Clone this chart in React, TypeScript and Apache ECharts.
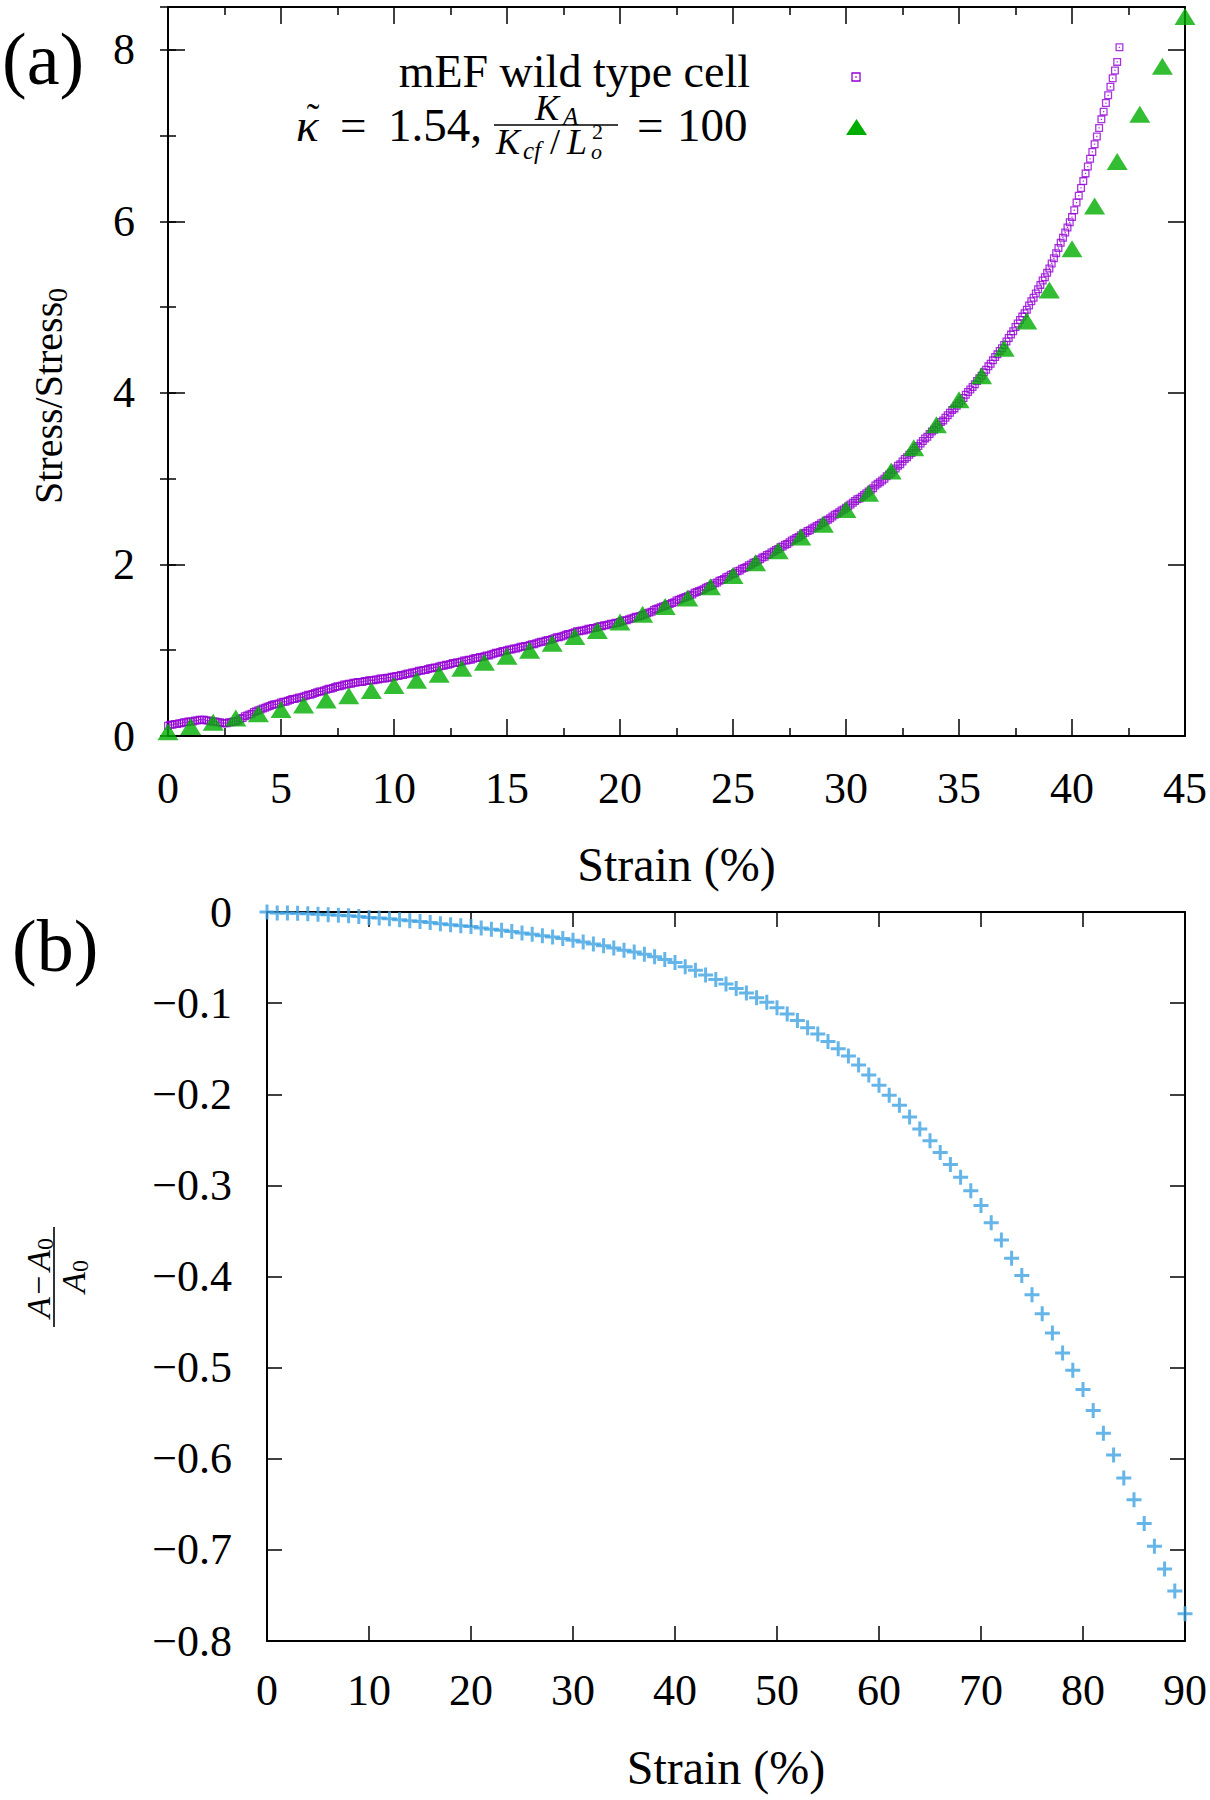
import React, { useEffect, useRef } from 'react';
import * as echarts from 'echarts';

const SERIF = 'Liberation Serif';

// ---------- Panel (a): stress vs strain ----------
// mEF wild type cell (purple open squares), sampled every 0.1 % strain from 0 to 42.1 %
const strainStepA = 0.1;
const stressA: number[] = [
  0.12, 0.13, 0.13, 0.14, 0.14, 0.15, 0.15, 0.16, 0.16, 0.17,
  0.17, 0.17, 0.18, 0.18, 0.19, 0.19, 0.19, 0.18, 0.18, 0.17,
  0.17, 0.17, 0.16, 0.16, 0.15, 0.15, 0.15, 0.16, 0.16, 0.17,
  0.17, 0.18, 0.20, 0.21, 0.23, 0.24, 0.25, 0.26, 0.28, 0.29,
  0.30, 0.31, 0.32, 0.33, 0.34, 0.35, 0.36, 0.37, 0.37, 0.38,
  0.39, 0.40, 0.40, 0.41, 0.42, 0.43, 0.43, 0.44, 0.45, 0.45,
  0.46, 0.47, 0.48, 0.48, 0.49, 0.50, 0.51, 0.52, 0.52, 0.53,
  0.54, 0.55, 0.55, 0.56, 0.57, 0.58, 0.58, 0.59, 0.60, 0.60,
  0.61, 0.61, 0.62, 0.62, 0.63, 0.63, 0.63, 0.64, 0.64, 0.65,
  0.65, 0.65, 0.66, 0.66, 0.67, 0.67, 0.67, 0.68, 0.68, 0.69,
  0.69, 0.70, 0.70, 0.71, 0.71, 0.72, 0.73, 0.73, 0.74, 0.74,
  0.75, 0.76, 0.76, 0.77, 0.77, 0.78, 0.79, 0.79, 0.80, 0.80,
  0.81, 0.82, 0.82, 0.83, 0.83, 0.84, 0.85, 0.85, 0.86, 0.86,
  0.87, 0.88, 0.88, 0.89, 0.89, 0.90, 0.91, 0.91, 0.92, 0.92,
  0.93, 0.94, 0.94, 0.95, 0.96, 0.97, 0.97, 0.98, 0.99, 0.99,
  1.00, 1.01, 1.01, 1.02, 1.02, 1.03, 1.04, 1.04, 1.05, 1.05,
  1.06, 1.07, 1.07, 1.08, 1.09, 1.10, 1.10, 1.11, 1.12, 1.12,
  1.13, 1.14, 1.15, 1.15, 1.16, 1.17, 1.18, 1.19, 1.19, 1.20,
  1.21, 1.22, 1.22, 1.23, 1.23, 1.24, 1.25, 1.25, 1.26, 1.26,
  1.27, 1.28, 1.28, 1.29, 1.29, 1.30, 1.31, 1.31, 1.32, 1.32,
  1.33, 1.34, 1.35, 1.35, 1.36, 1.37, 1.38, 1.39, 1.39, 1.40,
  1.41, 1.42, 1.43, 1.44, 1.45, 1.47, 1.48, 1.49, 1.50, 1.51,
  1.52, 1.53, 1.54, 1.55, 1.56, 1.58, 1.59, 1.60, 1.61, 1.62,
  1.63, 1.64, 1.65, 1.67, 1.68, 1.69, 1.70, 1.71, 1.73, 1.74,
  1.75, 1.76, 1.78, 1.79, 1.81, 1.82, 1.83, 1.85, 1.86, 1.88,
  1.89, 1.90, 1.92, 1.93, 1.95, 1.96, 1.97, 1.99, 2.00, 2.02,
  2.03, 2.05, 2.06, 2.08, 2.09, 2.11, 2.12, 2.14, 2.15, 2.17,
  2.18, 2.20, 2.21, 2.23, 2.24, 2.26, 2.28, 2.29, 2.31, 2.32,
  2.34, 2.36, 2.37, 2.39, 2.40, 2.42, 2.43, 2.45, 2.46, 2.48,
  2.49, 2.51, 2.52, 2.54, 2.56, 2.58, 2.59, 2.61, 2.63, 2.64,
  2.66, 2.68, 2.70, 2.72, 2.74, 2.76, 2.77, 2.79, 2.81, 2.83,
  2.85, 2.87, 2.89, 2.92, 2.94, 2.96, 2.98, 3.00, 3.03, 3.05,
  3.07, 3.10, 3.12, 3.15, 3.17, 3.20, 3.23, 3.25, 3.28, 3.30,
  3.33, 3.36, 3.38, 3.41, 3.44, 3.47, 3.49, 3.52, 3.55, 3.57,
  3.60, 3.63, 3.66, 3.68, 3.71, 3.74, 3.77, 3.80, 3.82, 3.85,
  3.88, 3.91, 3.94, 3.98, 4.01, 4.04, 4.07, 4.10, 4.14, 4.17,
  4.20, 4.24, 4.27, 4.31, 4.34, 4.38, 4.42, 4.45, 4.49, 4.52,
  4.56, 4.60, 4.64, 4.68, 4.72, 4.77, 4.81, 4.85, 4.89, 4.93,
  4.97, 5.02, 5.07, 5.11, 5.16, 5.21, 5.26, 5.31, 5.35, 5.40,
  5.45, 5.51, 5.57, 5.63, 5.69, 5.75, 5.81, 5.87, 5.93, 5.99,
  6.05, 6.13, 6.22, 6.30, 6.39, 6.47, 6.56, 6.64, 6.73, 6.81,
  6.90, 6.99, 7.09, 7.19, 7.28, 7.38, 7.47, 7.57, 7.67, 7.76,
  7.86, 8.03,
];

// model, kappa = 1.54, K_A/(K_cf/L_o^2) = 100 (green triangles)
const strainB: number[] = [
  0, 1, 2, 3, 4, 5, 6, 7, 8, 9, 10, 11, 12, 13, 14, 15, 16, 17, 18, 19, 20, 21, 22,
  23, 24, 25, 26, 27, 28, 29, 30, 31, 32, 33, 34, 35, 36, 37, 38, 39, 40, 41, 42, 43, 44, 45,
];
const stressB: number[] = [
  0.05, 0.11, 0.16, 0.21, 0.26, 0.31, 0.36, 0.42, 0.47, 0.53,
  0.59, 0.65, 0.72, 0.79, 0.86, 0.93, 1.00, 1.08, 1.16, 1.23,
  1.33, 1.42, 1.51, 1.61, 1.74, 1.87, 2.02, 2.16, 2.32, 2.47,
  2.64, 2.83, 3.09, 3.36, 3.63, 3.92, 4.20, 4.52, 4.84, 5.20,
  5.68, 6.18, 6.70, 7.25, 7.81, 8.39,
];

const xTicksA = { min: 0, max: 45, interval: 5 };
const yTicksA = { min: 0, max: 8.5, interval: 2 };

// ---------- Panel (b): relative area change vs strain ----------
const strainC: number[] = [
  0, 1, 2, 3, 4, 5, 6, 7, 8, 9, 10, 11, 12, 13, 14, 15, 16, 17, 18, 19,
  20, 21, 22, 23, 24, 25, 26, 27, 28, 29, 30, 31, 32, 33, 34, 35, 36, 37, 38, 39,
  40, 41, 42, 43, 44, 45, 46, 47, 48, 49, 50, 51, 52, 53, 54, 55, 56, 57, 58, 59,
  60, 61, 62, 63, 64, 65, 66, 67, 68, 69, 70, 71, 72, 73, 74, 75, 76, 77, 78, 79,
  80, 81, 82, 83, 84, 85, 86, 87, 88, 89, 90,
];
const areaC: number[] = [
  0, -0.001, -0.001, -0.0015, -0.002, -0.0025, -0.003, -0.0035, -0.004, -0.005,
  -0.006, -0.0065, -0.0075, -0.0085, -0.0095, -0.0105, -0.0115, -0.0128, -0.014, -0.015,
  -0.016, -0.0175, -0.019, -0.020, -0.0215, -0.023, -0.0245, -0.026, -0.0275, -0.029,
  -0.031, -0.033, -0.035, -0.037, -0.0395, -0.042, -0.044, -0.0465, -0.049, -0.052,
  -0.0555, -0.060, -0.064, -0.069, -0.074, -0.079, -0.084, -0.089, -0.094, -0.099,
  -0.105, -0.112, -0.119, -0.127, -0.134, -0.142, -0.150, -0.158, -0.168, -0.179,
  -0.190, -0.201, -0.212, -0.225, -0.238, -0.251, -0.264, -0.277, -0.291, -0.306,
  -0.322, -0.341, -0.360, -0.380, -0.399, -0.420, -0.441, -0.462, -0.484, -0.503,
  -0.524, -0.547, -0.572, -0.596, -0.621, -0.645, -0.671, -0.696, -0.721, -0.745,
  -0.770,
];

const xTicksC = { min: 0, max: 90, interval: 10 };
const yTicksC = { min: -0.8, max: 0, interval: 0.1 };

const PURPLE = '#9400d3';
const GREEN = '#00ad00';
const BLUE = '#3ea2e2';

const SQUARE_PATH = 'path://M0,0H10V10H0Z M1.6,1.6V8.4H8.4V1.6Z M4.2,4.2H5.8V5.8H4.2Z';
const PLUS_PATH = 'path://M6,0H9V6H15V9H9V15H6V9H0V6H6Z';

function txt(
  text: string,
  x: number,
  y: number,
  size: number,
  align: 'left' | 'center' | 'right' = 'left',
  italic = false,
) {
  return {
    type: 'text',
    x,
    y,
    silent: true,
    style: {
      text,
      fontFamily: SERIF,
      fontSize: size,
      fontStyle: italic ? 'italic' : 'normal',
      fill: '#000',
      align,
      verticalAlign: 'middle',
    },
  };
}

const lineStyle = { color: '#000', width: 2 };
const tickStyle = { color: '#000', width: 1.5 };
const labelStyle = { fontFamily: SERIF, fontSize: 44, color: '#000' };
const nameStyle = { fontFamily: SERIF, fontSize: 48, color: '#000' };

function minusFmt(v: number) {
  if (Math.abs(v) < 1e-9) return '0';
  const s = Math.abs(v).toFixed(1);
  return (v < 0 ? '\u2212' : '') + s;
}

function buildOption() {
  const dataA = stressA.map((s, i) => [Number((i * strainStepA).toFixed(1)), s]);
  const dataB = strainB.map((x, i) => [x, stressB[i]]);
  const dataC = strainC.map((x, i) => [x, areaC[i]]);

  const baseAxis = {
    type: 'value',
    splitLine: { show: false },
    axisLine: { show: true, onZero: false, lineStyle },
  };

  const xAxis = [
    {
      ...baseAxis, gridIndex: 0, position: 'bottom', ...xTicksA,
      axisTick: { show: true, inside: true, length: 17, lineStyle: tickStyle },
      minorTick: { show: true, splitNumber: 2, length: 8, lineStyle: tickStyle },
      axisLabel: { ...labelStyle, margin: 30 },
      name: 'Strain (%)', nameLocation: 'middle', nameGap: 104, nameTextStyle: nameStyle,
    },
    {
      ...baseAxis, gridIndex: 0, position: 'top', ...xTicksA,
      axisTick: { show: true, inside: true, length: 17, lineStyle: tickStyle },
      minorTick: { show: true, splitNumber: 2, length: 8, lineStyle: tickStyle },
      axisLabel: { show: false },
    },
    {
      ...baseAxis, gridIndex: 1, position: 'bottom', ...xTicksC,
      axisTick: { show: true, inside: true, length: 15, lineStyle: tickStyle },
      axisLabel: { ...labelStyle, margin: 27 },
      name: 'Strain (%)', nameLocation: 'middle', nameGap: 102, nameTextStyle: nameStyle,
    },
    {
      ...baseAxis, gridIndex: 1, position: 'top', ...xTicksC,
      axisTick: { show: true, inside: true, length: 15, lineStyle: tickStyle },
      axisLabel: { show: false },
    },
  ];

  const yAxis = [
    {
      ...baseAxis, gridIndex: 0, position: 'left', ...yTicksA,
      axisTick: { show: true, inside: true, length: 17, lineStyle: tickStyle },
      axisLabel: { ...labelStyle, margin: 33, showMaxLabel: false },
    },
    {
      ...baseAxis, gridIndex: 0, position: 'right', ...yTicksA,
      axisTick: { show: true, inside: true, length: 17, lineStyle: tickStyle },
      axisLabel: { show: false },
    },
    {
      ...baseAxis, gridIndex: 0, position: 'left', min: yTicksA.min, max: yTicksA.max, interval: 1,
      axisLine: { show: false },
      axisTick: { show: true, inside: true, length: 8, lineStyle: tickStyle },
      axisLabel: { show: false },
    },
    {
      ...baseAxis, gridIndex: 0, position: 'right', min: yTicksA.min, max: yTicksA.max, interval: 1,
      axisLine: { show: false },
      axisTick: { show: true, inside: true, length: 8, lineStyle: tickStyle },
      axisLabel: { show: false },
    },
    {
      ...baseAxis, gridIndex: 1, position: 'left', ...yTicksC,
      axisTick: { show: true, inside: true, length: 15, lineStyle: tickStyle },
      axisLabel: { ...labelStyle, margin: 35, formatter: minusFmt },
    },
    {
      ...baseAxis, gridIndex: 1, position: 'right', ...yTicksC,
      axisTick: { show: true, inside: true, length: 15, lineStyle: tickStyle },
      axisLabel: { show: false },
    },
  ];

  const graphicElements: any[] = [
    txt('(a)', 2, 59, 74, 'left'),
    txt('(b)', 12, 946, 74, 'left'),
    // legend line 1
    txt('mEF wild type cell', 750, 71, 46, 'right'),
    {
      type: 'rect', silent: true,
      shape: { x: 852, y: 73, width: 8, height: 8 },
      style: { fill: 'none', stroke: PURPLE, lineWidth: 1.3 },
    },
    {
      type: 'rect', silent: true,
      shape: { x: 855.3, y: 76.3, width: 1.4, height: 1.4 },
      style: { fill: PURPLE },
    },
    // legend line 2: kappa~ = 1.54, K_A/(K_cf/L_o^2) = 100
    txt('\u03ba', 296, 125, 47, 'left', true),
    txt('\u02dc', 313, 117, 38, 'center'),
    txt('=', 340, 125, 47, 'left'),
    txt('1.54,', 388, 125, 47, 'left'),
    {
      type: 'line', silent: true,
      shape: { x1: 494, y1: 125, x2: 618, y2: 125 },
      style: { stroke: '#000', lineWidth: 1.6 },
    },
    txt('K', 535, 108, 36, 'left', true),
    txt('A', 563, 116, 25, 'left', true),
    txt('K', 496, 142, 36, 'left', true),
    txt('cf', 523, 150, 25, 'left', true),
    txt('/', 550, 142, 36, 'left'),
    txt('L', 567, 142, 36, 'left', true),
    txt('o', 591, 151, 22, 'left', true),
    txt('2', 592, 131, 22, 'left'),
    txt('=', 637, 125, 47, 'left'),
    txt('100', 677, 125, 47, 'left'),
    {
      type: 'polygon', silent: true,
      shape: { points: [[846, 135], [867, 135], [856.5, 119]] },
      style: { fill: GREEN },
    },
    // y-axis title of panel (a)
    {
      type: 'group', x: 48, y: 396, rotation: Math.PI / 2,
      children: [txt('Stress/Stress', -108, 0, 40, 'left'), txt('0', 94, 9, 28, 'left')],
    },
    // y-axis title of panel (b): (A - A0)/A0
    {
      type: 'group', x: 54, y: 1277, rotation: Math.PI / 2,
      children: [
        { type: 'line', silent: true, shape: { x1: -50, y1: 0, x2: 50, y2: 0 }, style: { stroke: '#000', lineWidth: 1.6 } },
        txt('A', -41, -16, 34, 'left', true),
        txt('\u2212', -18, -16, 34, 'left'),
        txt('A', 6, -16, 34, 'left', true),
        txt('0', 27, -9, 24, 'left'),
        txt('A', -16, 19, 34, 'left', true),
        txt('0', 5, 26, 24, 'left'),
      ],
    },
  ];

  return {
    animation: false,
    backgroundColor: '#fff',
    grid: [
      { left: 168, top: 7, width: 1017, height: 729, containLabel: false },
      { left: 267, top: 912, width: 918, height: 729, containLabel: false },
    ],
    xAxis,
    yAxis,
    series: [
      {
        name: 'mEF wild type cell', type: 'scatter', xAxisIndex: 0, yAxisIndex: 0, data: dataA,
        symbol: SQUARE_PATH, symbolSize: 8, itemStyle: { color: PURPLE }, clip: false, silent: true,
      },
      {
        name: '\u03ba\u0303 = 1.54, K_A/(K_cf/L_o^2) = 100', type: 'scatter', xAxisIndex: 0, yAxisIndex: 0,
        data: dataB, symbol: 'triangle', symbolSize: [21, 17], itemStyle: { color: GREEN }, clip: false, silent: true,
      },
      {
        name: '(A - A0)/A0', type: 'scatter', xAxisIndex: 2, yAxisIndex: 4, data: dataC,
        symbol: PLUS_PATH, symbolSize: 15, itemStyle: { color: BLUE }, clip: false, silent: true,
      },
    ],
    graphic: { elements: graphicElements },
  };
}

export default function App() {
  const ref = useRef<HTMLDivElement>(null);
  useEffect(() => {
    if (!ref.current) return;
    const chart = echarts.init(ref.current, null, { renderer: 'svg', width: 1210, height: 1800 });
    chart.setOption(buildOption() as any);
    return () => chart.dispose();
  }, []);
  return (
    <div
      ref={ref}
      style={{ position: 'absolute', left: 0, top: 0, width: 1210, height: 1800, background: '#fff' }}
    />
  );
}
